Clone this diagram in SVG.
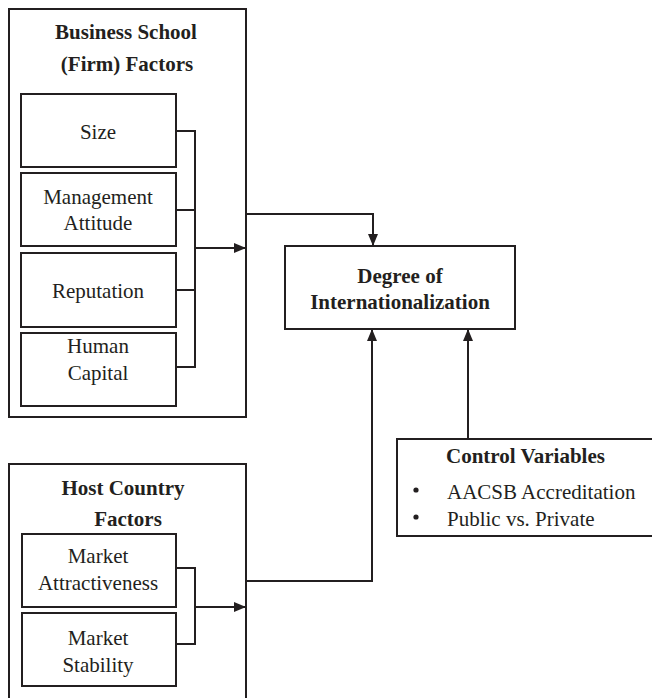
<svg xmlns="http://www.w3.org/2000/svg" width="652" height="698" viewBox="0 0 652 698">
<defs>
<marker id="ah" viewBox="0 0 12 10" refX="12" refY="5" markerWidth="12" markerHeight="10" markerUnits="userSpaceOnUse" orient="auto">
<path d="M0,0 L12,5 L0,10 Z" fill="#231f20"/>
</marker>
<style>
.box{fill:none;stroke:#231f20;stroke-width:2}
.ln{fill:none;stroke:#231f20;stroke-width:2}
text{font-family:"Liberation Serif","Times New Roman",serif;font-size:21px;fill:#231f20;text-anchor:middle}
.b{font-weight:bold}
.l{text-anchor:start}
</style>
</defs>
<rect width="652" height="698" fill="#fff"/>
<g id="business-school">
<rect class="box" x="9" y="9" width="237" height="408"/>
<text class="b" x="126" y="39">Business School</text>
<text class="b" x="127" y="71">(Firm) Factors</text>
</g>
<g id="size"><rect class="box" x="21" y="94" width="155" height="73"/><text x="98" y="139">Size</text></g>
<g id="management-attitude"><rect class="box" x="21" y="173" width="155" height="73"/><text x="98" y="204">Management</text><text x="98" y="230">Attitude</text></g>
<g id="reputation"><rect class="box" x="21" y="253" width="155" height="74"/><text x="98" y="298">Reputation</text></g>
<g id="human-capital"><rect class="box" x="21" y="333" width="155" height="73"/><text x="98" y="353">Human</text><text x="98" y="380">Capital</text></g>
<g id="degree"><rect class="box" x="285" y="246" width="230" height="83"/><text class="b" x="400" y="283">Degree of</text><text class="b" x="400" y="309">Internationalization</text></g>
<g id="control"><rect class="box" x="397" y="439" width="265" height="97"/>
<text class="b l" x="446" y="463">Control Variables</text>
<circle cx="416" cy="490" r="2.6" fill="#231f20"/>
<circle cx="416" cy="517" r="2.6" fill="#231f20"/>
<text class="l" x="447" y="499">AACSB Accreditation</text>
<text class="l" x="447" y="526">Public vs. Private</text>
</g>
<g id="host-country">
<rect class="box" x="9" y="464" width="237" height="250"/>
<text class="b" x="123" y="495">Host Country</text>
<text class="b" x="128" y="526">Factors</text>
</g>
<g id="market-attractiveness"><rect class="box" x="22" y="534" width="154" height="73"/><text x="98" y="563">Market</text><text x="98" y="590">Attractiveness</text></g>
<g id="market-stability"><rect class="box" x="22" y="613" width="154" height="73"/><text x="98" y="645">Market</text><text x="98" y="672">Stability</text></g>
<g id="connectors">
<path class="ln" d="M176,131 H195 V367 H176 M176,210 H195 M176,290 H195"/>
<path class="ln" d="M195,248 H246" marker-end="url(#ah)"/>
<path class="ln" d="M246,214 H373 V246" marker-end="url(#ah)"/>
<path class="ln" d="M176,568 H195 V644 H176"/>
<path class="ln" d="M195,607 H246" marker-end="url(#ah)"/>
<path class="ln" d="M246,581 H372 V329" marker-end="url(#ah)"/>
<path class="ln" d="M468,439 V329" marker-end="url(#ah)"/>
</g>
</svg>
